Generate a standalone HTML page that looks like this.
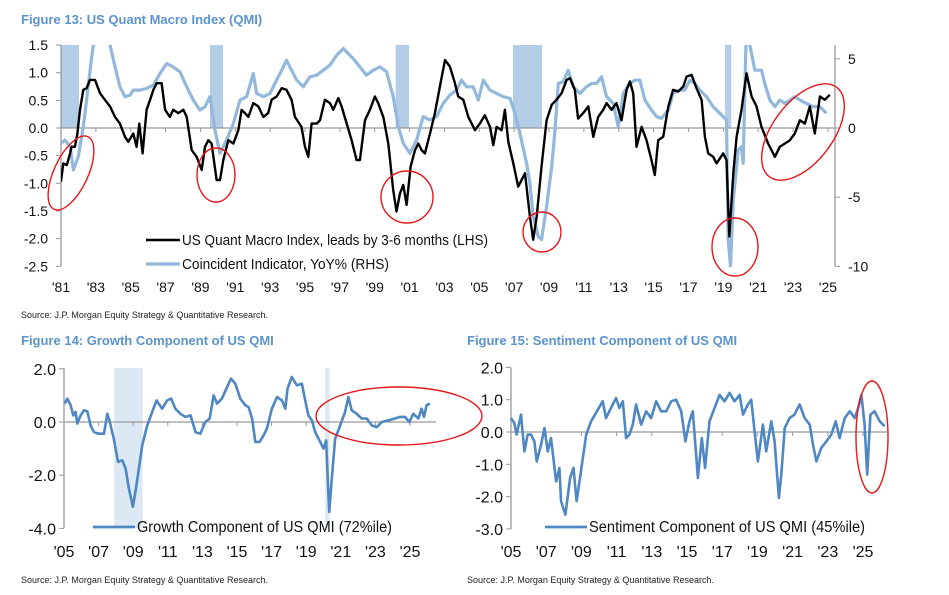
<!DOCTYPE html>
<html><head><meta charset="utf-8">
<style>
html,body{margin:0;padding:0;background:#fff;}
svg{display:block;font-family:"Liberation Sans",Arial,sans-serif;}
.t{font-weight:bold;font-size:13px;fill:#5b93cc;}
.tk{font-size:14px;fill:#111;}
.src{font-size:9px;fill:#222;}
.lg{font-size:14.5px;fill:#111;}
</style></head>
<body>
<svg id="c" width="949" height="595" viewBox="0 0 949 595">
<defs>
<clipPath id="clipMain"><rect x="61" y="45" width="774" height="222"/></clipPath>
</defs>
<text class="t" x="21" y="24">Figure 13: US Quant Macro Index (QMI)</text>
<text class="t" x="21" y="345">Figure 14: Growth Component of US QMI</text>
<text class="t" x="467" y="345">Figure 15: Sentiment Component of US QMI</text>
<text class="src" x="21" y="318">Source: J.P. Morgan Equity Strategy &amp; Quantitative Research.</text>
<text class="src" x="21" y="583">Source: J.P. Morgan Equity Strategy &amp; Quantitative Research.</text>
<text class="src" x="467" y="583">Source: J.P. Morgan Equity Strategy &amp; Quantitative Research.</text>
<g id="g13"></g>
<g id="g14"></g>
<g id="g15"></g>
</svg>
<script>
// ---------- Figure 13 data ----------
const qmiYears=[1981.0,1981.13,1981.33,1981.52,1981.61,1981.8,1981.94,1982.09,1982.28,1982.47,1982.66,1982.95,1983.24,1983.52,1983.81,1984.1,1984.38,1984.67,1984.86,1985.15,1985.34,1985.49,1985.68,1985.91,1986.11,1986.3,1986.49,1986.77,1986.97,1987.25,1987.44,1987.73,1988.02,1988.21,1988.5,1988.78,1989.07,1989.26,1989.45,1989.64,1989.93,1990.12,1990.31,1990.6,1990.89,1991.17,1991.36,1991.55,1991.75,1992.03,1992.32,1992.61,1992.89,1993.08,1993.37,1993.66,1993.94,1994.23,1994.42,1994.8,1995.0,1995.19,1995.38,1995.67,1995.86,1996.14,1996.43,1996.62,1996.91,1997.1,1997.39,1997.67,1997.96,1998.15,1998.44,1998.72,1999.01,1999.2,1999.49,1999.78,2000.06,2000.25,2000.45,2000.64,2000.83,2001.06,2001.31,2001.5,2001.69,2001.88,2002.17,2002.45,2002.74,2003.03,2003.31,2003.6,2003.79,2004.08,2004.37,2004.75,2005.03,2005.32,2005.61,2005.8,2005.99,2006.28,2006.47,2006.66,2006.95,2007.23,2007.62,2007.9,2008.09,2008.29,2008.57,2008.86,2009.15,2009.43,2009.72,2010.01,2010.2,2010.48,2010.67,2010.96,2011.25,2011.54,2011.82,2012.11,2012.3,2012.59,2012.87,2013.16,2013.45,2013.64,2013.83,2014.02,2014.31,2014.59,2014.88,2015.07,2015.26,2015.55,2015.84,2016.12,2016.41,2016.7,2016.89,2017.18,2017.46,2017.75,2017.94,2018.13,2018.42,2018.61,2018.99,2019.18,2019.34,2019.57,2019.76,2020.04,2020.33,2020.62,2020.9,2021.19,2021.57,2021.96,2022.24,2022.53,2022.82,2023.1,2023.39,2023.68,2023.96,2024.25,2024.54,2024.82,2025.11];
const qmiValues=[-0.97,-0.64,-0.67,-0.46,-0.34,-0.34,-0.10,0.33,0.69,0.72,0.87,0.87,0.63,0.51,0.39,0.20,0.08,-0.16,-0.25,-0.10,-0.34,0.08,-0.46,0.33,0.51,0.69,0.81,0.81,0.33,0.20,0.33,0.27,0.33,0.20,-0.40,-0.52,-0.76,-0.34,-0.22,-0.28,-0.94,-0.94,-0.58,-0.22,-0.28,-0.04,0.33,0.27,0.20,0.45,0.39,0.20,0.27,0.51,0.57,0.72,0.69,0.51,0.20,0.02,-0.34,-0.52,0.08,0.08,0.14,0.51,0.45,0.33,0.54,0.39,0.08,-0.22,-0.58,-0.58,0.14,0.33,0.57,0.45,0.20,-0.28,-1.12,-1.51,-1.18,-1.03,-1.39,-0.70,-0.40,-0.28,-0.40,-0.46,-0.10,0.27,0.75,1.23,1.11,0.81,0.57,0.51,0.20,-0.04,0.08,0.23,0.02,-0.31,0.02,-0.04,0.33,-0.25,-0.64,-1.06,-0.82,-1.60,-2.02,-1.60,-0.70,0.14,0.42,0.51,0.63,0.87,0.90,0.69,0.17,0.27,0.39,-0.16,0.20,0.33,0.45,0.33,0.45,0.14,0.69,0.84,0.63,-0.34,0.02,-0.22,-0.58,-0.85,-0.22,-0.16,0.39,0.69,0.66,0.75,0.93,0.96,0.72,0.51,-0.16,-0.46,-0.52,-0.64,-0.46,-0.58,-1.96,-0.82,-0.16,0.33,0.99,0.57,0.39,0.02,-0.28,-0.52,-0.34,-0.28,-0.22,-0.10,0.14,0.08,0.39,-0.10,0.57,0.51,0.60];
const coinYears=[1981.0,1981.23,1981.52,1981.71,1981.99,1982.28,1982.47,1982.76,1982.95,1983.24,1983.52,1983.81,1984.1,1984.38,1984.67,1984.96,1985.15,1985.53,1985.91,1986.3,1986.68,1987.06,1987.44,1987.83,1988.21,1988.59,1988.97,1989.26,1989.55,1989.83,1990.12,1990.5,1990.89,1991.27,1991.65,1992.03,1992.22,1992.61,1992.99,1993.37,1993.66,1993.94,1994.23,1994.52,1994.9,1995.28,1995.67,1996.05,1996.43,1996.81,1997.2,1997.48,1997.77,1998.15,1998.53,1998.92,1999.3,1999.68,2000.06,2000.35,2000.64,2001.02,2001.4,2001.78,2002.17,2002.55,2002.93,2003.31,2003.7,2003.98,2004.27,2004.65,2004.94,2005.23,2005.61,2005.99,2006.37,2006.76,2007.04,2007.33,2007.71,2007.9,2008.09,2008.38,2008.57,2008.86,2009.15,2009.34,2009.53,2009.81,2010.1,2010.39,2010.77,2011.15,2011.44,2011.73,2012.01,2012.3,2012.68,2012.97,2013.26,2013.64,2013.93,2014.21,2014.5,2014.88,2015.17,2015.46,2015.84,2016.12,2016.51,2016.79,2017.08,2017.37,2017.65,2018.04,2018.42,2018.8,2019.18,2019.28,2019.41,2019.57,2019.85,2020.04,2020.14,2020.27,2020.39,2020.52,2020.81,2021.19,2021.38,2021.67,2021.96,2022.24,2022.53,2022.82,2023.1,2023.39,2023.77,2024.15,2024.54,2024.92];
const coinValues=[-1.1,-0.87,-1.35,-3.03,-2.07,0.10,2.02,5.14,6.8,10,10,6.0,4.42,2.98,2.26,2.38,2.74,2.74,2.86,3.10,3.94,4.66,4.42,4.06,2.98,2.02,1.30,1.54,2.26,-0.14,-1.83,-0.87,0.34,2.02,2.26,3.94,2.50,2.26,2.50,3.46,4.18,4.90,4.18,3.46,2.98,3.70,3.82,4.18,4.54,5.26,5.75,5.38,5.02,4.42,3.82,4.18,4.42,4.06,2.26,0.10,-1.11,-1.83,-0.87,0.82,0.58,0.82,1.78,2.38,2.74,3.46,2.98,2.98,2.02,3.46,2.74,2.50,2.26,2.14,1.06,-0.38,-2.55,-3.99,-6.39,-7.84,-8.08,-5.67,-2.79,-0.14,3.22,3.34,4.18,2.98,2.50,2.98,3.22,3.22,3.70,2.26,1.78,0.10,2.50,3.22,3.46,3.46,2.02,1.30,0.82,0.70,1.30,2.50,2.74,2.74,3.46,3.22,2.74,2.26,1.54,1.06,0.58,-8.08,-10,-5.19,-1.59,-1.35,-2.55,4.90,9.2,6.0,4.18,4.18,3.22,2.02,1.54,2.02,1.78,2.02,2.26,2.02,1.78,1.54,1.54,1.06];
const recStart13=[1981.0,1989.55,2000.2,2006.93,2019.1];
const recEnd13=[1982.03,1990.3,2000.97,2008.6,2019.45];
const lhsTicks=[1.5,1.0,0.5,0.0,-0.5,-1.0,-1.5,-2.0,-2.5];
const lhsLabels=["1.5","1.0","0.5","0.0","-0.5","-1.0","-1.5","-2.0","-2.5"];
const rhsTicks=[5,0,-5,-10];
const rhsLabels=["5","0","-5","-10"];
const xTickYears13=[1981,1983,1985,1987,1989,1991,1993,1995,1997,1999,2001,2003,2005,2007,2009,2011,2013,2015,2017,2019,2021,2023,2025];
const xTickLabels13=["'81","'83","'85","'87","'89","'91","'93","'95","'97","'99","'01","'03","'05","'07","'09","'11","'13","'15","'17","'19","'21","'23","'25"];

// ---------- Figure 14 data ----------
const growthYears=[2005.04,2005.19,2005.38,2005.54,2005.67,2005.77,2005.96,2006.15,2006.35,2006.54,2006.73,2007.02,2007.31,2007.5,2007.65,2007.88,2008.12,2008.37,2008.56,2008.75,2008.98,2009.13,2009.33,2009.52,2009.81,2010.1,2010.35,2010.67,2010.96,2011.19,2011.44,2011.73,2012.02,2012.31,2012.6,2012.88,2013.17,2013.42,2013.65,2013.85,2014.13,2014.38,2014.65,2014.9,2015.19,2015.48,2015.67,2015.87,2016.06,2016.31,2016.54,2016.73,2017.02,2017.31,2017.6,2017.79,2017.92,2018.17,2018.46,2018.75,2018.94,2019.13,2019.33,2019.52,2019.81,2020.0,2020.15,2020.33,2020.48,2020.67,2020.96,2021.25,2021.44,2021.63,2021.92,2022.21,2022.5,2022.79,2023.08,2023.37,2023.75,2024.13,2024.42,2024.71,2024.96,2025.19,2025.48,2025.67,2025.81,2025.96,2026.15];
const growthValues=[0.69,0.88,0.63,0.25,0.38,-0.06,0.25,0.44,0.40,-0.13,-0.38,-0.44,-0.44,0.31,0.0,-0.63,-1.50,-1.44,-1.75,-2.50,-3.19,-2.63,-1.75,-0.88,-0.13,0.38,0.81,0.50,0.81,0.88,0.50,0.31,0.19,0.25,-0.38,-0.44,0.0,0.13,1.0,0.69,0.88,1.25,1.63,1.44,0.88,0.63,0.56,0.13,-0.75,-0.75,-0.50,-0.25,0.50,0.94,0.81,0.50,1.25,1.69,1.38,1.44,0.81,0.25,0.06,-0.38,-0.75,-1.00,-0.69,-3.38,-2.13,-0.63,-0.13,0.38,0.94,0.44,0.31,0.13,0.13,-0.13,-0.19,0.0,0.06,0.13,0.19,0.19,0.0,0.31,0.13,0.50,0.19,0.63,0.69];
const growthTicks=[2,0,-2,-4];
const growthLabels=["2.0","0.0","-2.0","-4.0"];
const recStart14=[2007.9,2020.1];
const recEnd14=[2009.55,2020.35];

// ---------- Figure 15 data ----------
const sentYears=[2005.0,2005.19,2005.32,2005.57,2005.76,2005.95,2006.14,2006.33,2006.46,2006.71,2006.9,2007.09,2007.27,2007.56,2007.75,2007.84,2008.09,2008.36,2008.55,2008.73,2008.92,2009.27,2009.55,2009.83,2010.21,2010.4,2010.78,2010.97,2011.16,2011.35,2011.54,2011.73,2011.92,2012.11,2012.39,2012.68,2012.96,2013.25,2013.53,2013.82,2014.1,2014.38,2014.67,2014.91,2015.14,2015.33,2015.62,2015.84,2016.03,2016.28,2016.56,2016.85,2017.13,2017.42,2017.7,2017.99,2018.18,2018.46,2018.65,2018.84,2019.03,2019.31,2019.5,2019.79,2019.98,2020.22,2020.36,2020.55,2020.83,2021.11,2021.4,2021.69,2021.97,2022.16,2022.35,2022.63,2022.92,2023.2,2023.45,2023.67,2023.96,2024.25,2024.53,2024.72,2024.91,2025.09,2025.24,2025.42,2025.66,2025.95,2026.23];
const sentValues=[0.43,0.28,-0.08,0.54,-0.60,-0.08,-0.08,-0.29,-0.91,-0.39,0.12,-0.60,-0.19,-1.53,-1.11,-2.14,-2.56,-1.42,-1.11,-2.14,-1.42,-0.08,0.33,0.59,0.95,0.43,0.85,1.05,0.74,0.95,-0.19,-0.08,0.23,0.85,0.23,0.64,0.43,0.95,0.64,0.64,0.95,1.0,0.64,-0.29,0.33,0.64,-1.42,-0.19,-1.11,0.33,0.74,1.15,0.95,1.21,0.95,1.15,0.54,0.85,1.0,0.02,-0.91,0.23,-0.60,0.33,-0.29,-2.04,-1.32,0.12,0.43,0.54,0.85,0.43,0.23,-0.39,-0.91,-0.49,-0.29,-0.08,0.33,-0.19,0.43,0.64,0.43,0.74,1.15,0.23,-1.32,0.54,0.64,0.33,0.18];
const sentTicks=[2,1,0,-1,-2,-3];
const sentLabels=["2.0","1.0","0.0","-1.0","-2.0","-3.0"];
const xTickYearsB=[2005,2007,2009,2011,2013,2015,2017,2019,2021,2023,2025];
const xTickLabelsB=["'05","'07","'09","'11","'13","'15","'17","'19","'21","'23","'25"];

const NS="http://www.w3.org/2000/svg";
function mk(parent,tag,attrs){const e=document.createElementNS(NS,tag);for(const k in attrs)e.setAttribute(k,attrs[k]);parent.appendChild(e);return e;}
function pathD(xs,ys,fx,fy){return xs.map((x,i)=>(i?'L':'M')+fx(x).toFixed(1)+','+fy(ys[i]).toFixed(1)).join('');}

// ===== Figure 13 =====
(function(){
const g=document.getElementById('g13');
const X=y=>61+(y-1981)*17.43;
const YL=v=>128-v*55.3;
const YR=v=>128-v*13.83;
recStart13.forEach((s,i)=>{
 const r=mk(g,'rect',{x:X(s),y:45,width:X(recEnd13[i])-X(s),height:YL(0)-45,fill:'#b3cde6'});
 
 
});
const ax=mk(g,'line',{x1:61,y1:45,x2:61,y2:266,stroke:'#999','stroke-width':1.3});


const ax2=mk(g,'line',{x1:835,y1:45,x2:835,y2:266,stroke:'#999','stroke-width':1.3});


const zl=mk(g,'line',{x1:61,y1:YL(0),x2:835,y2:YL(0),stroke:'#999','stroke-width':1.3});


lhsTicks.forEach((v,i)=>{
 mk(g,'line',{x1:56,y1:YL(v),x2:61,y2:YL(v),stroke:'#999'});
 const t=mk(g,'text',{x:48,y:YL(v)+5,'text-anchor':'end',class:'tk'});t.textContent=lhsLabels[i];
 
 
});
rhsTicks.forEach((v,i)=>{
 mk(g,'line',{x1:835,y1:YR(v),x2:840,y2:YR(v),stroke:'#999'});
 const t=mk(g,'text',{x:848,y:YR(v)+5,class:'tk'});t.textContent=rhsLabels[i];
 
 
});
xTickYears13.forEach((yr,i)=>{
 mk(g,'line',{x1:X(yr),y1:YL(0),x2:X(yr),y2:YL(0)+4,stroke:'#999'});
 const t=mk(g,'text',{x:X(yr),y:292,'text-anchor':'middle',class:'tk'});t.textContent=xTickLabels13[i];
 
 
});
const cl=mk(g,'g',{'clip-path':'url(#clipMain)'});
const p2=mk(cl,'path',{d:pathD(coinYears,coinValues,X,YR),fill:'none',stroke:'#93b8dc','stroke-width':3.2,'stroke-linejoin':'round'});


const p1=mk(cl,'path',{d:pathD(qmiYears,qmiValues,X,YL),fill:'none',stroke:'#000','stroke-width':2.4,'stroke-linejoin':'round'});


// legend
mk(g,'line',{x1:146,y1:240,x2:180,y2:240,stroke:'#000','stroke-width':2.6});
const l1=mk(g,'text',{x:182,y:245,class:'lg',textLength:306,lengthAdjust:'spacingAndGlyphs'});l1.textContent='US Quant Macro Index, leads by 3-6 months (LHS)';


mk(g,'line',{x1:146,y1:264,x2:180,y2:264,stroke:'#93b8dc','stroke-width':3.2});
const l2=mk(g,'text',{x:182,y:269,class:'lg',textLength:207,lengthAdjust:'spacingAndGlyphs'});l2.textContent='Coincident Indicator, YoY% (RHS)';


// red annotation ellipses
[[71,173,17,40,25],[216,175,19,27,0],[407,197,26,26,0],[542,232,19,20,0],[735,247,23,29,0],[803,132,56,30,-53]].forEach(e=>{
 const el=mk(g,'ellipse',{cx:e[0],cy:e[1],rx:e[2],ry:e[3],transform:`rotate(${e[4]} ${e[0]} ${e[1]})`,fill:'none',stroke:'#e8161b','stroke-width':1.4});
 
 
});
})();

// ===== bottom charts =====
function bottom(gid,ax0,x0,pxYr,zeroY,pxUnit,top,bot,zEnd,ticks,labels,years,vals,rs,re,legendText,lgX,lgW,ell,nm){
 const g=document.getElementById(gid);
 const X=y=>x0+(y-2005)*pxYr;
 const Y=v=>zeroY-v*pxUnit;
 rs.forEach((s,i)=>{
  const r=mk(g,'rect',{x:X(s),y:top,width:X(re[i])-X(s),height:bot-top,fill:'#dce8f4'});
  
  
 });
 const a=mk(g,'line',{x1:ax0,y1:top,x2:ax0,y2:bot,stroke:'#999','stroke-width':1.3});
 
 
 const z=mk(g,'line',{x1:ax0,y1:Y(0),x2:zEnd,y2:Y(0),stroke:'#999','stroke-width':1.3});
 
 
 ticks.forEach((v,i)=>{
  mk(g,'line',{x1:ax0-5,y1:Y(v),x2:ax0,y2:Y(v),stroke:'#999'});
  const t=mk(g,'text',{x:ax0-8,y:Y(v)+6,'text-anchor':'end',class:'tk',style:'font-size:16px'});t.textContent=labels[i];
  
  
 });
 xTickYearsB.forEach((yr,i)=>{
  mk(g,'line',{x1:X(yr),y1:Y(0),x2:X(yr),y2:Y(0)+4,stroke:'#999'});
  const t=mk(g,'text',{x:X(yr),y:557,'text-anchor':'middle',class:'tk',style:'font-size:16px'});t.textContent=xTickLabelsB[i];
  
  
 });
 const p=mk(g,'path',{d:pathD(years,vals,X,Y),fill:'none',stroke:'#4f87c2','stroke-width':2.6,'stroke-linejoin':'round'});
 
 
 mk(g,'line',{x1:lgX,y1:527,x2:lgX+42,y2:527,stroke:'#4f87c2','stroke-width':2.8});
 const lt=mk(g,'text',{x:lgX+44,y:532,class:'lg',style:'font-size:15.5px',textLength:lgW,lengthAdjust:'spacingAndGlyphs'});lt.textContent=legendText;
 
 
 const el=mk(g,'ellipse',{cx:ell[0],cy:ell[1],rx:ell[2],ry:ell[3],fill:'none',stroke:'#e8161b','stroke-width':1.4});
 
 
}
bottom('g14',64,64,17.3,422,26.6,368,528,436,growthTicks,growthLabels,growthYears,growthValues,recStart14,recEnd14,'Growth Component of US QMI (72%ile)',93,255,[399,416,83,29],'growth');
bottom('g15',511,511,17.6,432,32.3,368,529,887,sentTicks,sentLabels,sentYears,sentValues,[],[],'Sentiment Component of US QMI (45%ile)',545,276,[872,437,16,56],'sentiment');
</script>
</body></html>
